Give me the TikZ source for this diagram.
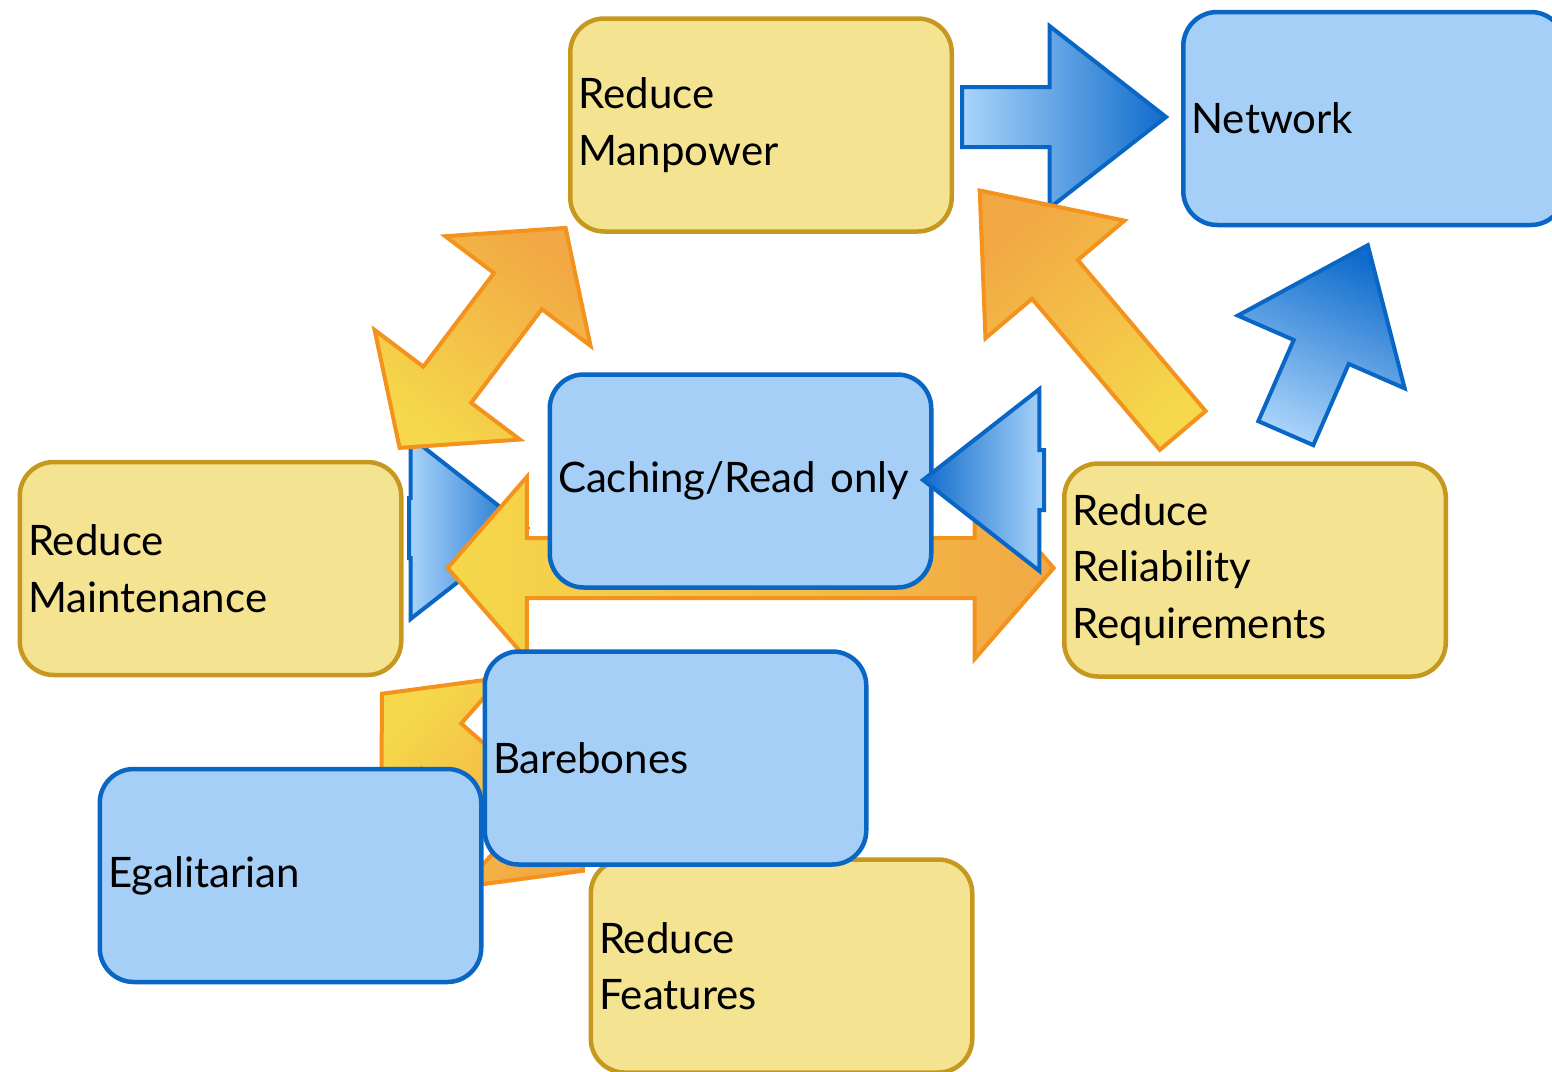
\documentclass[tikz,border=0pt]{standalone}
\usepackage{fontspec}
\setmainfont{Lato}
\usepackage{tikz}
\usetikzlibrary{shapes.arrows,calc}
\definecolor{dfyellow}{RGB}{244,228,145}
\definecolor{dfgold}{RGB}{198,152,32}
\definecolor{dfblue}{RGB}{10,102,196}
\definecolor{dflightblue}{RGB}{166,207,247}
\definecolor{dfpaleblue}{RGB}{170,212,250}
\definecolor{dfdarkblue}{RGB}{16,108,204}
\definecolor{dforange}{RGB}{243,146,28}
\definecolor{dfamber}{RGB}{242,168,68}
\definecolor{dfsun}{RGB}{245,216,75}
\newcommand{\diagfont}{\fontsize{42}{56.5}\selectfont}
\tikzstyle{box} = [rectangle, rounded corners=34pt, minimum width=381.5pt, minimum height=213pt, text width=365pt, inner xsep=8pt, align=left, line width=4.5pt, font=\diagfont]
\tikzstyle{yellowbox} = [box, draw=dfgold, fill=dfyellow]
\tikzstyle{bluebox} = [box, draw=dfblue, fill=dflightblue]
\tikzstyle{oneway} = [single arrow, anchor=tail, single arrow head extend=61pt, single arrow tip angle=76, inner xsep=0pt, inner ysep=28pt, line width=4pt]
\tikzstyle{twoway} = [double arrow, anchor=tip 2, double arrow head extend=61pt, double arrow tip angle=98, inner xsep=0pt, inner ysep=28pt, line width=4pt]
\tikzstyle{bluearrow} = [oneway, draw=dfblue, top color=dfdarkblue, bottom color=dfpaleblue]
\tikzstyle{orangearrow} = [oneway, draw=dforange, top color=dfamber, bottom color=dfsun]
\tikzstyle{orangetwoway} = [twoway, draw=dforange, top color=dfamber, bottom color=dfsun]
\pgfdeclarelayer{back}
\pgfdeclarelayer{front}
\pgfsetlayers{back,main,front}
% block arrow from #2 to #3, shaded towards #3
\newcommand{\blockto}[3]{%
  \path let \p1=(#2), \p2=(#3),
    \n1={atan2(\y2-\y1,\x2-\x1)}, \n2={veclen(\x2-\x1,\y2-\y1)}, \n3={\n1-90} in
    node[#1, rotate=\n1, minimum height=\n2, shading angle=\n3] at (\p1) {};
}

\begin{document}
\begin{tikzpicture}[x=1pt, y=-1pt]
\useasboundingbox (0,0) rectangle (1552,1071);

\node (manpower) [yellowbox] at (761,125) {Reduce\\Manpower};
\node (network) [bluebox] at (1374,118.5) {Network};
\node (caching) [bluebox] at (740.5,481) {Caching/Read only};
\node (maintenance) [yellowbox] at (210.5,568.5) {Reduce\\Maintenance};
\node (reliability) [yellowbox] at (1255,570) {Reduce\\Reliability\\Requirements};
\node (features) [yellowbox] at (781.5,966) {Reduce\\Features};
\node (egalitarian) [bluebox] at (290.5,875.5) {Egalitarian};
\node (barebones) [bluebox] at (675.5,758) {Barebones};

% arrow ends
\coordinate (manpower-out) at (960,117);
\coordinate (network-in) at (1164,117);
\coordinate (maintenance-up) at (398,450);
\coordinate (manpower-down) at (564,230);
\coordinate (reliability-up) at (1184,432);
\coordinate (manpower-in) at (981,192);
\coordinate (reliability-out) at (1285,435);
\coordinate (network-down) at (1367,247);
\coordinate (reliability-left) at (1046,480);
\coordinate (caching-right) at (925,480);
\coordinate (maintenance-right) at (445,568);
\coordinate (reliability-in) at (1051,568);
\coordinate (maintenance-out) at (407,528);
\coordinate (caching-left) at (525,528);
\coordinate (egalitarian-up) at (380,692);
\coordinate (features-left) at (581,869);

\begin{pgfonlayer}{back}
\blockto{bluearrow}{maintenance-out}{caching-left}
\blockto{orangetwoway}{maintenance-up}{manpower-down}
\blockto{orangetwoway}{maintenance-right}{reliability-in}
\blockto{orangetwoway}{egalitarian-up}{features-left}
\blockto{bluearrow}{manpower-out}{network-in}
\blockto{orangearrow}{reliability-up}{manpower-in}
\blockto{bluearrow}{reliability-out}{network-down}
\end{pgfonlayer}
\begin{pgfonlayer}{front}
\blockto{bluearrow}{reliability-left}{caching-right}
\end{pgfonlayer}
\end{tikzpicture}
\end{document}
